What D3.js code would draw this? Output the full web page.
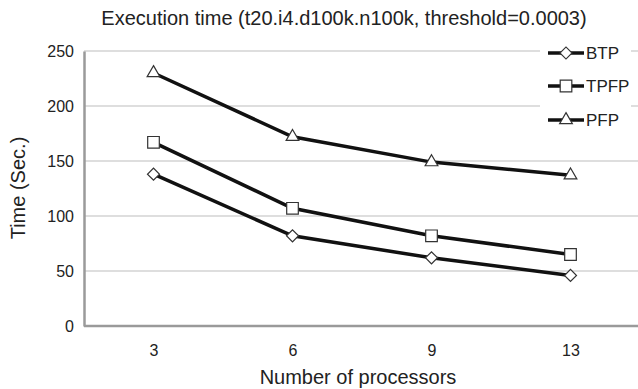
<!DOCTYPE html>
<html>
<head>
<meta charset="utf-8">
<script src="https://cdn.jsdelivr.net/npm/d3@7/dist/d3.min.js"></script>
<style>
  body { margin: 0; background: #fff; }
  svg { display: block; font-family: "Liberation Sans", Arial, sans-serif; }
</style>
</head>
<body>
<svg id="chart" width="638" height="389"></svg>
<script>
// data
var processors = ["3", "6", "9", "13"];
var btp  = [138, 82, 62, 46];
var tpfp = [167, 107, 82, 65];
var pfp  = [230, 172, 149, 137];
var yTicks = [0, 50, 100, 150, 200, 250];
var seriesNames = ["BTP", "TPFP", "PFP"];

// diamond = square turned 45 degrees
var series = [
  {name: "BTP", values: btp, symbol: d3.symbolSquare, size: 72, rot: 45},
  {name: "TPFP", values: tpfp, symbol: d3.symbolSquare, size: 135, rot: 0},
  {name: "PFP", values: pfp, symbol: d3.symbolTriangle, size: 70, rot: 0}
];

var margin = {top: 51, right: -2, bottom: 63, left: 84};
var width = 638, height = 389;

var svg = d3.select("#chart");

var x = d3.scalePoint()
  .domain(processors)
  .range([margin.left, width - margin.right])
  .padding(0.5);

var y = d3.scaleLinear()
  .domain([0, 250])
  .range([height - margin.bottom, margin.top]);

// gridlines
svg.append("g")
  .selectAll("line")
  .data(yTicks.filter(function(d){ return d > 0; }))
  .enter().append("line")
    .attr("x1", margin.left)
    .attr("x2", width)
    .attr("y1", function(d){ return y(d); })
    .attr("y2", function(d){ return y(d); })
    .attr("stroke", "#bdbdbd")
    .attr("stroke-width", 1);

// axes
var yAxis = svg.append("g")
  .attr("transform", "translate(" + margin.left + ",0)")
  .call(d3.axisLeft(y).tickValues(yTicks).tickSize(0).tickPadding(10));
yAxis.select(".domain").attr("stroke", "#9a9a9a").attr("stroke-width", 2.5);
yAxis.selectAll("text").attr("font-size", "16px").attr("fill", "#222")
  .attr("font-family", "Liberation Sans, Arial, sans-serif");

var xAxis = svg.append("g")
  .attr("transform", "translate(0," + y(0) + ")")
  .call(d3.axisBottom(x).tickSize(0).tickPadding(19));
xAxis.select(".domain").attr("stroke", "#9a9a9a").attr("stroke-width", 2.5)
  .attr("d", "M" + margin.left + ",0H" + width);
xAxis.selectAll("text").attr("font-size", "16px").attr("fill", "#222")
  .attr("font-family", "Liberation Sans, Arial, sans-serif");

// lines
var line = d3.line()
  .x(function(d, i){ return x(processors[i]); })
  .y(function(d){ return y(d); });

series.forEach(function(s){
  svg.append("path")
    .attr("d", line(s.values))
    .attr("fill", "none")
    .attr("stroke", "#111")
    .attr("stroke-width", 3.5);
});

series.forEach(function(s){
  svg.append("g").selectAll("path")
    .data(s.values)
    .enter().append("path")
      .attr("d", d3.symbol().type(s.symbol).size(s.size))
      .attr("transform", function(d, i){
        return "translate(" + x(processors[i]) + "," + y(d) + ") rotate(" + s.rot + ")";
      })
      .attr("fill", "#fff")
      .attr("stroke", "#333")
      .attr("stroke-width", 1.2);
});

// legend
var legend = svg.append("g");
legend.append("rect")
  .attr("x", 540).attr("y", 38)
  .attr("width", 91).attr("height", 98)
  .attr("fill", "#fff");

var legendY = [53, 86, 120];
series.forEach(function(s, i){
  var g = legend.append("g").attr("transform", "translate(0," + legendY[i] + ")");
  g.append("line")
    .attr("x1", 548).attr("x2", 584)
    .attr("stroke", "#111").attr("stroke-width", 3.5);
  g.append("path")
    .attr("d", d3.symbol().type(s.symbol).size(s.size))
    .attr("transform", "translate(566,0) rotate(" + s.rot + ")")
    .attr("fill", "#fff").attr("stroke", "#333").attr("stroke-width", 1.2);
  g.append("text")
    .attr("x", 586).attr("y", 0).attr("dy", "0.35em")
    .attr("font-size", "17px").attr("fill", "#222")
    .text(seriesNames[i]);
});

// titles
svg.append("text")
  .attr("x", 344).attr("y", 25)
  .attr("text-anchor", "middle")
  .attr("font-size", "20px").attr("fill", "#222")
  .text("Execution time (t20.i4.d100k.n100k, threshold=0.0003)");

svg.append("text")
  .attr("x", 358).attr("y", 384)
  .attr("text-anchor", "middle")
  .attr("font-size", "20px").attr("fill", "#222")
  .text("Number of processors");

svg.append("text")
  .attr("transform", "translate(25,188) rotate(-90)")
  .attr("text-anchor", "middle")
  .attr("font-size", "20px").attr("fill", "#222")
  .text("Time (Sec.)");
</script>
</body>
</html>
